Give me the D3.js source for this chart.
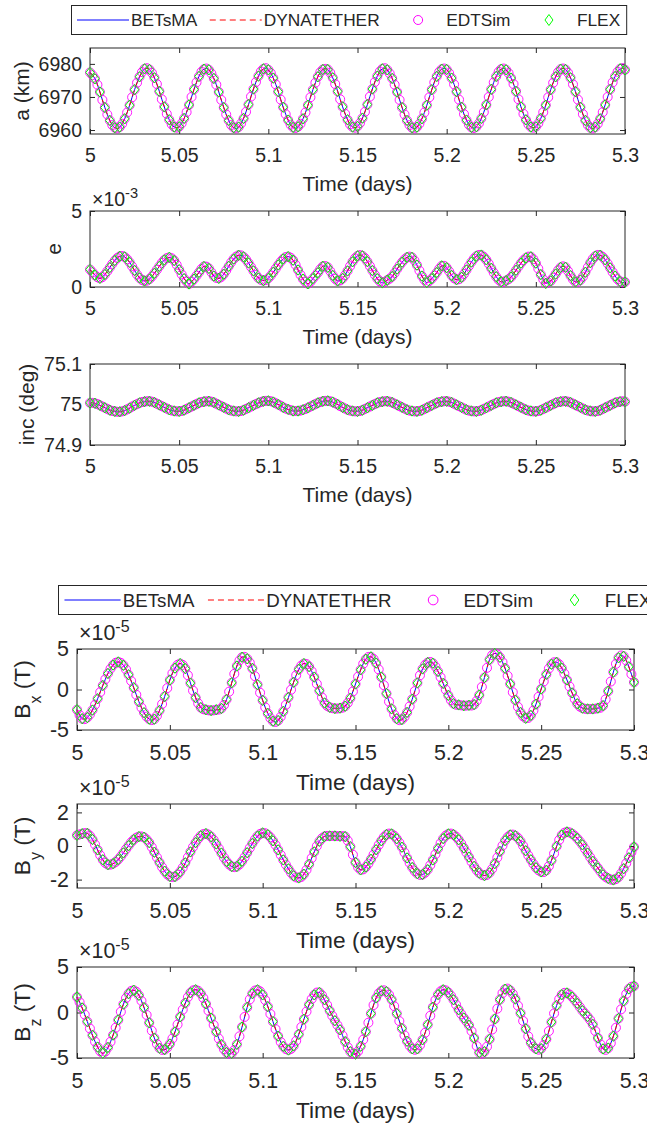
<!DOCTYPE html>
<html>
<head>
<meta charset="utf-8">
<script src="https://cdn.jsdelivr.net/npm/d3@7"></script>
<style>
  body { margin: 0; background: #fff; }
  svg text { font-family: "Liberation Sans", Arial, Helvetica, sans-serif; fill: #262626; }
</style>
</head>
<body>
<svg id="fig" width="647" height="1125"></svg>
<script>
// samples every 2 minutes from day 5.0 to day 5.3 (217 points); FLEX plotted every 4 minutes
var startDay = 5, stepMinutes = 2, flexEvery = 2;
var xTicks = [5, 5.05, 5.1, 5.15, 5.2, 5.25, 5.3];
var seriesNames = ["BETsMA", "DYNATETHER", "EDTSim", "FLEX"];

// semi-major axis (km)
var semiMajor = [
  6977.4, 6976.6, 6975.5, 6973.7, 6971.5, 6969.1, 6966.8, 6964.7, 6962.9, 6961.5, 6960.7, 6960.5, 6960.9, 6961.9, 6963.4, 6965.3, 6967.5, 6969.9, 6972.2, 6974.3, 6976.1, 6977.5, 6978.5, 6978.7,
  6978.3, 6977.3, 6975.8, 6973.9, 6971.7, 6969.3, 6967.0, 6964.9, 6963.1, 6961.7, 6960.9, 6960.7, 6961.0, 6962.0, 6963.5, 6965.4, 6967.6, 6970.0, 6972.3, 6974.4, 6976.2, 6977.6, 6978.4, 6978.6,
  6978.2, 6977.1, 6975.6, 6973.7, 6971.5, 6969.1, 6966.8, 6964.7, 6962.9, 6961.5, 6960.7, 6960.5, 6960.9, 6962.0, 6963.5, 6965.5, 6967.7, 6970.1, 6972.4, 6974.5, 6976.3, 6977.7, 6978.5, 6978.7,
  6978.2, 6977.2, 6975.7, 6973.8, 6971.6, 6969.2, 6966.9, 6964.8, 6963.0, 6961.6, 6960.8, 6960.6, 6961.0, 6961.9, 6963.4, 6965.3, 6967.5, 6969.9, 6972.2, 6974.3, 6976.1, 6977.5, 6978.3, 6978.5,
  6978.3, 6977.3, 6975.8, 6973.9, 6971.7, 6969.3, 6967.0, 6964.9, 6963.1, 6961.7, 6960.9, 6960.7, 6961.1, 6962.1, 6963.6, 6965.5, 6967.7, 6970.1, 6972.4, 6974.5, 6976.3, 6977.7, 6978.5, 6978.7,
  6978.2, 6977.1, 6975.6, 6973.7, 6971.5, 6969.1, 6966.8, 6964.7, 6962.9, 6961.5, 6960.7, 6960.5, 6960.9, 6961.9, 6963.4, 6965.3, 6967.5, 6969.9, 6972.2, 6974.4, 6976.2, 6977.6, 6978.4, 6978.6,
  6978.3, 6977.2, 6975.7, 6973.8, 6971.6, 6969.2, 6966.9, 6964.8, 6963.0, 6961.6, 6960.8, 6960.6, 6961.0, 6962.0, 6963.5, 6965.4, 6967.6, 6970.0, 6972.3, 6974.4, 6976.2, 6977.6, 6978.4, 6978.6,
  6978.2, 6977.2, 6975.7, 6973.9, 6971.7, 6969.3, 6967.0, 6964.9, 6963.1, 6961.7, 6960.9, 6960.7, 6961.0, 6962.0, 6963.5, 6965.4, 6967.5, 6969.9, 6972.2, 6974.3, 6976.1, 6977.5, 6978.4, 6978.6,
  6978.3, 6977.3, 6975.8, 6973.8, 6971.6, 6969.2, 6966.9, 6964.8, 6962.9, 6961.5, 6960.7, 6960.5, 6960.9, 6961.9, 6963.4, 6965.4, 6967.6, 6970.0, 6972.3, 6974.4, 6976.2, 6977.6, 6978.5, 6978.7,
  6978.2
];

// eccentricity (x 1e-3)
var ecc = [
  1.15, 0.97, 0.78, 0.64, 0.57, 0.65, 0.82, 1.04, 1.28, 1.52, 1.74, 1.91, 2.02, 2.04, 1.98, 1.83, 1.62, 1.36, 1.09, 0.82, 0.60, 0.46, 0.40, 0.42,
  0.52, 0.69, 0.90, 1.13, 1.36, 1.59, 1.78, 1.90, 1.95, 1.89, 1.74, 1.46, 1.14, 0.83, 0.55, 0.35, 0.20, 0.35, 0.52, 0.74, 0.96, 1.19, 1.35, 1.34,
  1.22, 0.97, 0.72, 0.60, 0.57, 0.66, 0.84, 1.09, 1.36, 1.62, 1.84, 2.00, 2.09, 2.08, 1.98, 1.81, 1.58, 1.32, 1.06, 0.80, 0.59, 0.47, 0.42, 0.46,
  0.57, 0.75, 0.97, 1.21, 1.45, 1.67, 1.85, 1.97, 2.00, 1.93, 1.76, 1.46, 1.12, 0.80, 0.52, 0.33, 0.21, 0.34, 0.55, 0.74, 0.94, 1.18, 1.36, 1.38,
  1.29, 1.04, 0.76, 0.54, 0.40, 0.43, 0.56, 0.78, 1.06, 1.37, 1.66, 1.89, 2.05, 2.10, 2.05, 1.90, 1.67, 1.38, 1.08, 0.80, 0.55, 0.37, 0.27, 0.33,
  0.45, 0.55, 0.69, 0.92, 1.18, 1.42, 1.63, 1.82, 1.95, 2.00, 1.95, 1.74, 1.44, 1.08, 0.72, 0.47, 0.29, 0.40, 0.55, 0.74, 0.95, 1.20, 1.39, 1.39,
  1.27, 1.03, 0.76, 0.58, 0.48, 0.51, 0.64, 0.86, 1.12, 1.39, 1.64, 1.86, 2.03, 2.11, 2.10, 1.98, 1.79, 1.53, 1.23, 0.94, 0.68, 0.47, 0.34, 0.34,
  0.42, 0.51, 0.65, 0.86, 1.10, 1.34, 1.57, 1.76, 1.91, 2.00, 1.99, 1.83, 1.57, 1.21, 0.82, 0.50, 0.24, 0.30, 0.40, 0.61, 0.85, 1.10, 1.29, 1.36,
  1.30, 1.05, 0.75, 0.50, 0.33, 0.34, 0.46, 0.68, 0.97, 1.29, 1.60, 1.85, 2.03, 2.11, 2.09, 1.98, 1.79, 1.54, 1.26, 0.98, 0.72, 0.51, 0.36, 0.30,
  0.32
];

// inclination (deg)
var incl = [
  75.004, 75.004, 75.003, 75.001, 74.998, 74.995, 74.992, 74.989, 74.986, 74.984, 74.983, 74.982, 74.982, 74.983, 74.985, 74.988, 74.991, 74.995, 74.998, 75.001, 75.004, 75.006, 75.007, 75.008,
  75.008, 75.007, 75.005, 75.002, 74.999, 74.996, 74.993, 74.990, 74.987, 74.985, 74.984, 74.983, 74.983, 74.984, 74.986, 74.989, 74.992, 74.995, 74.998, 75.001, 75.004, 75.006, 75.007, 75.008,
  75.008, 75.007, 75.005, 75.002, 74.999, 74.996, 74.993, 74.990, 74.987, 74.985, 74.984, 74.983, 74.983, 74.984, 74.986, 74.989, 74.992, 74.995, 74.998, 75.001, 75.004, 75.006, 75.008, 75.009,
  75.009, 75.008, 75.006, 75.003, 75.000, 74.997, 74.993, 74.990, 74.988, 74.986, 74.984, 74.984, 74.984, 74.985, 74.987, 74.989, 74.992, 74.995, 74.998, 75.001, 75.004, 75.006, 75.008, 75.009,
  75.009, 75.008, 75.006, 75.003, 75.000, 74.996, 74.993, 74.990, 74.987, 74.985, 74.984, 74.983, 74.983, 74.984, 74.986, 74.989, 74.992, 74.995, 74.998, 75.001, 75.004, 75.006, 75.007, 75.008,
  75.008, 75.007, 75.005, 75.002, 74.999, 74.996, 74.993, 74.990, 74.987, 74.985, 74.984, 74.983, 74.983, 74.984, 74.986, 74.989, 74.992, 74.995, 74.998, 75.001, 75.004, 75.006, 75.007, 75.008,
  75.008, 75.007, 75.005, 75.002, 74.999, 74.996, 74.993, 74.990, 74.987, 74.985, 74.984, 74.983, 74.983, 74.984, 74.986, 74.989, 74.992, 74.995, 74.998, 75.001, 75.004, 75.006, 75.007, 75.008,
  75.008, 75.007, 75.005, 75.002, 74.999, 74.996, 74.993, 74.990, 74.987, 74.985, 74.984, 74.983, 74.983, 74.984, 74.986, 74.989, 74.992, 74.995, 74.998, 75.001, 75.004, 75.006, 75.007, 75.008,
  75.008, 75.007, 75.005, 75.002, 74.999, 74.996, 74.993, 74.990, 74.987, 74.985, 74.984, 74.983, 74.983, 74.984, 74.986, 74.989, 74.992, 74.995, 74.998, 75.001, 75.004, 75.006, 75.007, 75.008,
  75.007
];

// magnetic field components (x 1e-5 T)
var bx = [
  -2.5, -3.15, -3.6, -3.66, -3.46, -3.08, -2.54, -1.88, -1.14, -0.33, 0.49, 1.27, 1.98, 2.57, 3.02, 3.30, 3.4, 3.29, 2.99, 2.48, 1.82, 1.06, 0.23, -0.65,
  -1.5, -2.24, -2.86, -3.35, -3.66, -3.78, -3.66, -3.24, -2.6, -1.79, -0.86, 0.17, 1.17, 2.0, 2.64, 3.05, 3.2, 3.04, 2.58, 1.76, 0.79, -0.14, -1.0, -1.71,
  -2.23, -2.44, -2.5, -2.57, -2.6, -2.57, -2.5, -2.48, -2.34, -1.91, -1.24, -0.27, 0.83, 1.93, 2.9, 3.58, 3.98, 4.03, 3.79, 3.31, 2.6, 1.64, 0.59, -0.4,
  -1.34, -2.21, -2.95, -3.54, -3.92, -4.01, -3.83, -3.37, -2.7, -1.89, -0.98, -0.03, 0.9, 1.76, 2.48, 2.96, 3.2, 3.14, 2.82, 2.26, 1.53, 0.70, -0.15, -0.98,
  -1.66, -2.02, -2.2, -2.31, -2.35, -2.35, -2.3, -2.24, -2.06, -1.66, -1.07, -0.24, 0.68, 1.58, 2.43, 3.18, 3.74, 4.02, 4.03, 3.77, 3.26, 2.48, 1.54, 0.53,
  -0.5, -1.5, -2.39, -3.11, -3.6, -3.79, -3.71, -3.38, -2.83, -2.09, -1.2, -0.2, 0.81, 1.75, 2.54, 3.05, 3.33, 3.40, 3.24, 2.82, 2.23, 1.52, 0.75, -0.02,
  -0.73, -1.32, -1.74, -1.88, -1.9, -1.96, -2.0, -1.99, -1.95, -1.98, -1.86, -1.40, -0.69, 0.32, 1.47, 2.67, 3.69, 4.24, 4.45, 4.34, 3.97, 3.38, 2.61, 1.69,
  0.69, -0.34, -1.31, -2.15, -2.83, -3.31, -3.55, -3.51, -3.2, -2.60, -1.81, -0.90, 0.06, 1.0, 1.87, 2.59, 3.12, 3.36, 3.36, 3.10, 2.63, 1.96, 1.18, 0.37,
  -0.42, -1.16, -1.76, -2.11, -2.3, -2.38, -2.4, -2.41, -2.4, -2.37, -2.3, -2.25, -1.99, -1.22, -0.2, 0.98, 2.15, 3.17, 3.92, 4.20, 4.1, 3.58, 2.8, 1.89,
  0.9
];
var by = [
  0.64, 0.69, 0.73, 0.77, 0.75, 0.61, 0.39, 0.09, -0.23, -0.55, -0.82, -1.01, -1.11, -1.11, -1.05, -0.95, -0.8, -0.62, -0.41, -0.19, 0.02, 0.22, 0.38, 0.50,
  0.56, 0.57, 0.52, 0.39, 0.2, -0.07, -0.37, -0.68, -0.98, -1.26, -1.5, -1.69, -1.81, -1.85, -1.82, -1.71, -1.53, -1.29, -1.0, -0.68, -0.35, -0.06, 0.2, 0.43,
  0.61, 0.71, 0.74, 0.68, 0.55, 0.36, 0.12, -0.15, -0.42, -0.69, -0.92, -1.10, -1.22, -1.26, -1.22, -1.10, -0.91, -0.67, -0.4, -0.12, 0.15, 0.39, 0.59, 0.72,
  0.78, 0.76, 0.67, 0.52, 0.31, 0.06, -0.23, -0.53, -0.83, -1.11, -1.36, -1.59, -1.77, -1.87, -1.9, -1.84, -1.68, -1.42, -1.09, -0.72, -0.35, -0.01, 0.28, 0.46,
  0.57, 0.60, 0.6, 0.60, 0.6, 0.59, 0.58, 0.59, 0.56, 0.32, -0.04, -0.52, -0.98, -1.27, -1.42, -1.39, -1.25, -1.05, -0.79, -0.51, -0.22, 0.06, 0.31, 0.53,
  0.68, 0.74, 0.72, 0.61, 0.43, 0.20, -0.07, -0.39, -0.71, -1.01, -1.28, -1.50, -1.65, -1.72, -1.7, -1.59, -1.41, -1.14, -0.83, -0.49, -0.15, 0.17, 0.44, 0.62,
  0.72, 0.74, 0.68, 0.55, 0.37, 0.14, -0.12, -0.39, -0.66, -0.94, -1.21, -1.44, -1.61, -1.72, -1.76, -1.72, -1.59, -1.36, -1.05, -0.69, -0.32, 0.02, 0.32, 0.53,
  0.66, 0.68, 0.61, 0.48, 0.28, 0.01, -0.28, -0.56, -0.82, -1.07, -1.29, -1.45, -1.54, -1.55, -1.45, -1.20, -0.86, -0.45, -0.02, 0.36, 0.65, 0.79, 0.84, 0.81,
  0.73, 0.61, 0.45, 0.27, 0.07, -0.17, -0.42, -0.67, -0.91, -1.12, -1.31, -1.52, -1.71, -1.84, -1.93, -2.0, -2.02, -1.97, -1.85, -1.63, -1.35, -1.03, -0.7, -0.37,
  -0.06
];
var bz = [
  1.7, 1.14, 0.5, -0.23, -1.0, -1.76, -2.5, -3.2, -3.8, -4.26, -4.48, -4.29, -3.84, -3.22, -2.48, -1.67, -0.82, 0.08, 0.92, 1.58, 2.07, 2.37, 2.45, 2.28,
  1.89, 1.28, 0.54, -0.27, -1.13, -2.0, -2.81, -3.46, -3.92, -4.11, -4.08, -3.86, -3.46, -2.86, -2.13, -1.32, -0.48, 0.31, 1.04, 1.68, 2.17, 2.43, 2.5, 2.38,
  2.08, 1.59, 0.95, 0.19, -0.61, -1.37, -2.12, -2.87, -3.53, -4.04, -4.39, -4.56, -4.5, -4.13, -3.5, -2.62, -1.6, -0.49, 0.57, 1.44, 2.08, 2.41, 2.49, 2.32,
  1.94, 1.36, 0.65, -0.16, -1.0, -1.83, -2.6, -3.24, -3.72, -4.02, -4.12, -4.0, -3.67, -3.11, -2.4, -1.59, -0.74, 0.10, 0.86, 1.48, 1.94, 2.19, 2.2, 1.89,
  1.4, 0.82, 0.2, -0.36, -0.9, -1.39, -1.9, -2.54, -3.2, -3.81, -4.3, -4.56, -4.58, -4.26, -3.71, -2.98, -2.11, -1.12, -0.11, 0.82, 1.6, 2.10, 2.38, 2.44,
  2.29, 1.95, 1.42, 0.70, -0.11, -0.94, -1.75, -2.51, -3.16, -3.66, -3.99, -4.10, -3.99, -3.60, -3.0, -2.23, -1.34, -0.36, 0.58, 1.36, 1.97, 2.34, 2.5, 2.43,
  2.2, 1.85, 1.4, 0.86, 0.3, -0.17, -0.6, -0.97, -1.4, -2.05, -2.8, -3.69, -4.4, -4.54, -4.3, -3.75, -2.93, -1.87, -0.72, 0.42, 1.42, 2.13, 2.56, 2.63,
  2.43, 2.04, 1.48, 0.75, -0.07, -0.93, -1.79, -2.62, -3.31, -3.75, -3.99, -4.09, -3.97, -3.57, -2.93, -2.04, -1.05, -0.10, 0.77, 1.47, 1.96, 2.16, 2.15, 1.98,
  1.7, 1.37, 1.0, 0.60, 0.2, -0.12, -0.45, -0.82, -1.3, -2.03, -2.8, -3.50, -4.0, -4.11, -3.91, -3.37, -2.6, -1.67, -0.66, 0.35, 1.28, 2.04, 2.59, 2.83,
  2.9
];

var svg = d3.select("#fig");
var ink = "#262626";

function timeOf(i) { return startDay + i * stepMinutes / 1440; }

// two figures stacked: orbital elements on top, field components below
var figTop = { x0: 90, x1: 625, fs: 19.5, lfs: 21, xPad: 14.5, xLabelOff: 57, tickLen: 5 };
var figBot = { x0: 77, x1: 634, fs: 21.4, lfs: 22.7, xPad: 15.3, xLabelOff: 60, tickLen: 5 };

var panels = [
  { fig: figTop, data: semiMajor, y0: 48, y1: 134, dom: [6958.8, 6984.8], ticks: [6960, 6970, 6980], label: ["a (km)"], labelX: 29 },
  { fig: figTop, data: ecc, y0: 211, y1: 287, dom: [0, 5], ticks: [0, 5], label: ["e"], labelX: 61, exp: "-3" },
  { fig: figTop, data: incl, y0: 364, y1: 445, dom: [74.9, 75.1], ticks: [74.9, 75, 75.1], label: ["inc (deg)"], labelX: 34 },
  { fig: figBot, data: bx, y0: 649, y1: 730, dom: [-5, 5], ticks: [-5, 0, 5], label: ["B", "x", " (T)"], labelX: 30, exp: "-5" },
  { fig: figBot, data: by, y0: 804, y1: 888, dom: [-2.5, 2.5], ticks: [-2, 0, 2], label: ["B", "y", " (T)"], labelX: 30, exp: "-5" },
  { fig: figBot, data: bz, y0: 967, y1: 1058, dom: [-5, 5], ticks: [-5, 0, 5], label: ["B", "z", " (T)"], labelX: 30, exp: "-5" }
];

function styleAxis(sel, fs) {
  sel.select(".domain").remove();
  sel.attr("font-family", null).attr("font-size", null);
  sel.selectAll("line").attr("stroke", ink);
  sel.selectAll("text").attr("fill", ink).style("font-size", fs + "px");
}

function diamondPath(w, h) {
  return "M0," + (-h) + "L" + w + ",0L0," + h + "L" + (-w) + ",0Z";
}

function drawPanel(p) {
  var f = p.fig;
  var g = svg.append("g");
  var x = d3.scaleLinear().domain([5, 5.3]).range([f.x0, f.x1]);
  var y = d3.scaleLinear().domain(p.dom).range([p.y1, p.y0]);

  g.append("g").attr("transform", "translate(0," + p.y1 + ")")
    .call(d3.axisBottom(x).tickValues(xTicks).tickFormat(String)
      .tickSizeInner(-f.tickLen).tickSizeOuter(0).tickPadding(f.xPad))
    .call(styleAxis, f.fs);
  g.append("g").attr("transform", "translate(0," + p.y0 + ")")
    .call(d3.axisTop(x).tickValues(xTicks).tickFormat("")
      .tickSizeInner(-f.tickLen).tickSizeOuter(0))
    .call(styleAxis, f.fs);
  g.append("g").attr("transform", "translate(" + f.x0 + ",0)")
    .call(d3.axisLeft(y).tickValues(p.ticks).tickFormat(String)
      .tickSizeInner(-f.tickLen).tickSizeOuter(0).tickPadding(8))
    .call(styleAxis, f.fs);
  g.append("g").attr("transform", "translate(" + f.x1 + ",0)")
    .call(d3.axisRight(y).tickValues(p.ticks).tickFormat("")
      .tickSizeInner(-f.tickLen).tickSizeOuter(0))
    .call(styleAxis, f.fs);

  g.append("rect")
    .attr("x", f.x0).attr("y", p.y0)
    .attr("width", f.x1 - f.x0).attr("height", p.y1 - p.y0)
    .attr("fill", "none").attr("stroke", ink).attr("stroke-width", 1);

  var pts = p.data.map(function (v, i) { return [timeOf(i), v]; });
  var flexPts = pts.filter(function (d, i) { return i % flexEvery === 0; });
  var line = d3.line().x(function (d) { return x(d[0]); }).y(function (d) { return y(d[1]); })
    .curve(d3.curveMonotoneX);

  // BETsMA
  g.append("path").attr("d", line(pts)).attr("fill", "none")
    .attr("stroke", "#0000ff").attr("stroke-width", 1);
  // DYNATETHER
  g.append("path").attr("d", line(pts)).attr("fill", "none")
    .attr("stroke", "#ff0000").attr("stroke-width", 1).attr("stroke-dasharray", "6,4");
  // EDTSim
  g.append("g").selectAll("circle").data(pts).enter().append("circle")
    .attr("cx", function (d) { return x(d[0]); })
    .attr("cy", function (d) { return y(d[1]); })
    .attr("r", 4.5).attr("fill", "none").attr("stroke", "#ff00ff").attr("stroke-width", 0.9);
  // FLEX
  g.append("g").selectAll("path").data(flexPts).enter().append("path")
    .attr("transform", function (d) { return "translate(" + x(d[0]) + "," + y(d[1]) + ")"; })
    .attr("d", diamondPath(4.2, 5.2)).attr("fill", "none").attr("stroke", "#00ff00").attr("stroke-width", 1);

  // x label
  g.append("text").attr("x", (f.x0 + f.x1) / 2).attr("y", p.y1 + f.xLabelOff)
    .attr("text-anchor", "middle").style("font-size", f.lfs + "px").text("Time (days)");

  // y label (rotated, optional subscript)
  var yl = g.append("text")
    .attr("transform", "translate(" + p.labelX + "," + (p.y0 + p.y1) / 2 + ") rotate(-90)")
    .attr("text-anchor", "middle").style("font-size", f.lfs + "px");
  if (p.label.length === 1) {
    yl.text(p.label[0]);
  } else {
    yl.append("tspan").text(p.label[0]);
    yl.append("tspan").attr("dy", 11).style("font-size", "16px").text(p.label[1]);
    yl.append("tspan").attr("dy", -11).text(p.label[2]);
  }

  // exponent label
  if (p.exp) {
    var ex = g.append("text").attr("x", f.x0 + 2).attr("y", p.y0 - (f === figTop ? 5 : 9))
      .style("font-size", f.fs + "px");
    ex.append("tspan").text("\u00d710");
    ex.append("tspan").attr("dy", -8).style("font-size", (f.fs * 0.75) + "px").text(p.exp);
  }
}

panels.forEach(drawPanel);

function drawLegend(lx, ly, h, fs, s) {
  var g = svg.append("g");
  var box = g.append("rect").attr("x", lx + 0.5).attr("y", ly + 0.5).attr("height", h)
    .attr("fill", "#fff").attr("stroke", ink).attr("stroke-width", 1);
  var cy = ly + h / 2 + 0.5;
  var cur = lx + 6 * s;
  seriesNames.forEach(function (name, i) {
    var a = cur, b = cur + 52 * s, m = (a + b) / 2;
    if (i === 0) {
      g.append("line").attr("x1", a).attr("x2", b).attr("y1", cy).attr("y2", cy)
        .attr("stroke", "#0000ff").attr("stroke-width", 1);
    } else if (i === 1) {
      g.append("line").attr("x1", a).attr("x2", b).attr("y1", cy).attr("y2", cy)
        .attr("stroke", "#ff0000").attr("stroke-width", 1).attr("stroke-dasharray", "6,4");
    } else if (i === 2) {
      g.append("circle").attr("cx", m).attr("cy", cy).attr("r", 4.5 * s)
        .attr("fill", "none").attr("stroke", "#ff00ff").attr("stroke-width", 1);
    } else {
      g.append("path").attr("transform", "translate(" + m + "," + cy + ")")
        .attr("d", diamondPath(4 * s, 5.5 * s))
        .attr("fill", "none").attr("stroke", "#00ff00").attr("stroke-width", 1);
    }
    var t = g.append("text").attr("x", b + 2 * s).attr("y", cy + 0.35 * fs)
      .style("font-size", fs + "px").text(name);
    cur = b + 2 * s + t.node().getComputedTextLength() + 12.5 * s;
  });
  box.attr("width", cur - 12.5 * s + 6 * s - lx);
}

drawLegend(71, 5, 29, 17.3, 1);
drawLegend(58, 585, 29, 18.7, 1.08);
</script>
</body>
</html>
